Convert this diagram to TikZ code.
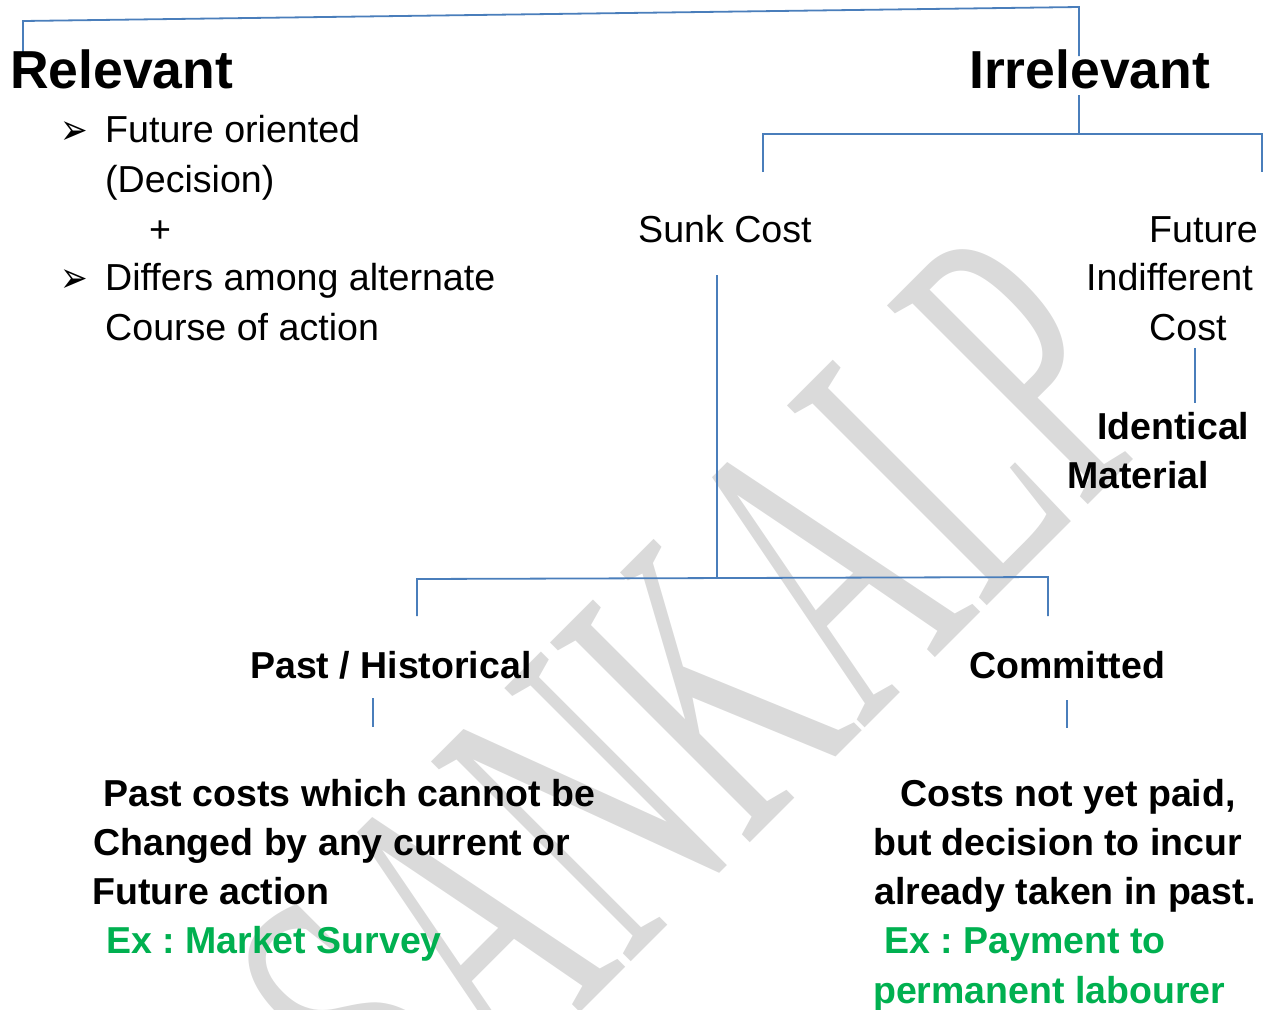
\documentclass[tikz,border=0pt]{standalone}
\usepackage{fontspec}
\setmainfont{Liberation Sans}
\newfontfamily\markfont{Liberation Serif}
\newfontfamily\dingfont{DejaVu Sans}
\definecolor{linkblue}{RGB}{74,126,187}
\definecolor{exgreen}{RGB}{0,176,80}
\definecolor{markgray}{RGB}{218,218,218}
\frenchspacing

\begin{document}
\begin{tikzpicture}[x=1pt, y=-1pt,
  link/.style={draw=linkblue, line width=1.8pt},
  plain/.style={anchor=base west, inner sep=0pt, font=\fontsize{37.6}{44}\selectfont},
  heavy/.style={plain, font=\fontsize{37.5}{44}\selectfont\bfseries},
  example/.style={heavy, text=exgreen},
  heading/.style={anchor=base west, inner sep=0pt, font=\fontsize{53.5}{60}\selectfont\bfseries},
  bullet/.style={anchor=base west, inner sep=0pt, font=\fontsize{33}{33}\dingfont}]
\useasboundingbox (0, 0) rectangle (1270, 1010);
\clip (0, 0) rectangle (1270, 1010);

% watermark
\node[text=markgray, rotate=45, inner sep=0pt, font=\fontsize{232}{232}\markfont]
  (mark) at (696, 698) {\scalebox{1}[1.86]{SANKALP}};

% connector ends
\coordinate (rel-end)   at (  23,  56);
\coordinate (top-l)     at (  23,  21);
\coordinate (top-r)     at (1079,   7);
\coordinate (irr-in)    at (1079,  56);
\coordinate (irr-out)   at (1079,  95);
\coordinate (irr-fork)  at (1079, 134);
\coordinate (sunk-drop) at ( 763, 172);
\coordinate (fic-drop)  at (1262, 172);
\coordinate (cost-end)  at (1195, 348);
\coordinate (ident-end) at (1195, 403);
\coordinate (sunk-top)  at ( 717, 275);
\coordinate (sunk-fork) at ( 717, 578);
\coordinate (past-fork) at ( 417, 579);
\coordinate (past-drop) at ( 417, 616);
\coordinate (comm-fork) at (1048, 577);
\coordinate (comm-drop) at (1048, 616);
\coordinate (past-up)   at ( 373, 698);
\coordinate (past-down) at ( 373, 727);
\coordinate (comm-up)   at (1067, 700);
\coordinate (comm-down) at (1067, 728);

\draw[link] (rel-end) -- (top-l) -- (top-r) -- (irr-in);
\draw[link] (irr-out) -- (irr-fork);
\draw[link] (sunk-drop) -- (sunk-drop |- irr-fork) -- (fic-drop |- irr-fork) -- (fic-drop);
\draw[link] (cost-end) -- (ident-end);
\draw[link] (sunk-top) -- (sunk-fork);
\draw[link] (past-drop) -- (past-fork) -- (comm-fork) -- (comm-drop);
\draw[link] (past-up) -- (past-down);
\draw[link] (comm-up) -- (comm-down);

\node[heading] (relevant)   at (  10,  88) {Relevant};
\node[heading] (irrelevant) at ( 969,  88) {Irrelevant};

\node[bullet] (arrow-a)   at (  60, 144) {\scalebox{1}[1.3]{➢}};
\node[plain]  (future)    at ( 105, 142) {Future oriented};
\node[plain]  (decision)  at ( 105, 192) {(Decision)};
\node[plain, anchor=base] (plus) at (160, 242) {+};
\node[bullet] (arrow-b)   at (  60, 292) {\scalebox{1}[1.3]{➢}};
\node[plain]  (differs)   at ( 105, 290) {Differs among alternate};
\node[plain]  (course)    at ( 105, 340) {Course of action};

\node[plain] (sunk)  at ( 638, 242) {Sunk Cost};
\node[plain] (fic-a) at (1149, 242) {Future};
\node[plain] (fic-b) at (1086, 290) {Indifferent};
\node[plain] (fic-c) at (1149, 340) {Cost};
\node[heavy] (ident-a) at (1097, 439) {Identical};
\node[heavy] (ident-b) at (1067, 488) {Material};

\node[heavy] (past)      at ( 250, 678) {Past / Historical};
\node[heavy] (committed) at ( 969, 678) {Committed};

\node[heavy]   (past-a) at ( 103, 806) {Past costs which cannot be};
\node[heavy]   (past-b) at (  93, 855) {Changed by any current or};
\node[heavy]   (past-c) at (  92, 904) {Future action};
\node[example] (past-x) at ( 106, 953) {Ex : Market Survey};

\node[heavy]   (comm-a) at ( 900, 806) {Costs not yet paid,};
\node[heavy]   (comm-b) at ( 873, 855) {but decision to incur};
\node[heavy]   (comm-c) at ( 874, 904) {already taken in past.};
\node[example] (comm-x) at ( 884, 953) {Ex : Payment to};
\node[example] (comm-y) at ( 873,1003) {permanent labourer};
\end{tikzpicture}
\end{document}
